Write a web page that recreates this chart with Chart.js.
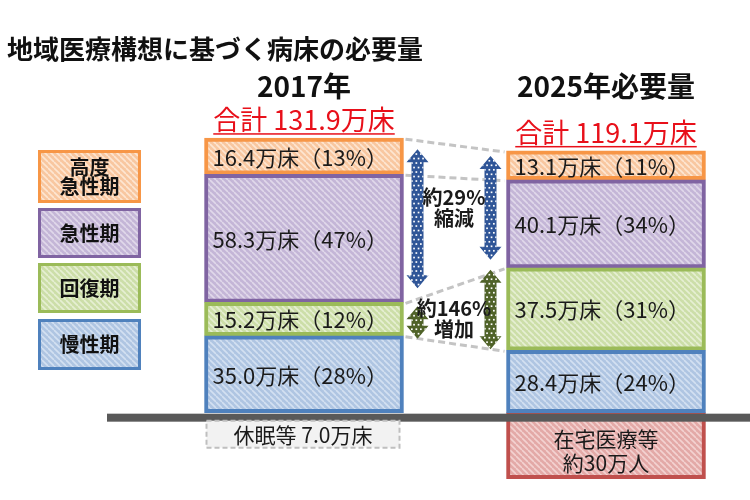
<!DOCTYPE html>
<html lang="ja">
<head>
<meta charset="utf-8">
<script src="https://cdn.jsdelivr.net/npm/chart.js@4.4.1/dist/chart.umd.min.js"></script>
<style>
  html, body { margin: 0; padding: 0; background: #fff; }
  #wrap { width: 750px; height: 500px; }
</style>
</head>
<body>
<div id="wrap"><canvas id="bedChart" width="750" height="500"></canvas></div>
<script>
// Data (万床)
const years = ["2017年", "2025年必要量"];
const totals = [131.9, 119.1];
const stageNames = ["高度\n急性期", "急性期", "回復期", "慢性期"];
const highAcute = [16.4, 13.1];
const acute = [58.3, 40.1];
const recovery = [15.2, 37.5];
const chronic = [35.0, 28.4];
const highAcuteShare = [13, 11];
const acuteShare = [47, 34];
const recoveryShare = [12, 31];
const chronicShare = [28, 24];
const homeCare = [null, -30]; // 在宅医療等 約30万人
const homeCareText = ["在宅医療等", "約30万人"];
const idleBeds = 7.0;
const changeLabels = [["約29%", "縮減"], ["約146%", "増加"]];

const fontJP = "'Noto Sans CJK JP', 'Noto Sans', sans-serif";

// Striped fills
function stripes(base, line) {
    const c = document.createElement("canvas");
    c.width = 6;
    c.height = 6;
    const g = c.getContext("2d");
    g.fillStyle = base;
    g.fillRect(0, 0, 6, 6);
    g.strokeStyle = line;
    g.lineWidth = 1.6;
    g.beginPath();
    for (let k = -2; k <= 2; k++) {
        g.moveTo(0, 6 * k);
        g.lineTo(6, 6 * k + 6);
    }
    g.stroke();
    return g.createPattern(c, "repeat");
}

const colors = {
    orange: { border: "#F79646", fill: stripes("#F8C7A0", "#FDE6D2") },
    purple: { border: "#8064A2", fill: stripes("#C4B6D7", "#E0D8EA") },
    green: { border: "#9BBB59", fill: stripes("#CCDEA8", "#E6EFD3") },
    blue: { border: "#4F81BD", fill: stripes("#AFC5E2", "#D3E0F1") },
    red: { border: "#C0504D", fill: stripes("#E3A9A7", "#F3D2D1") },
};

function drawArrow(ctx, x, y1, y2, color) {
    const shaft = 6, head = 11, hl = 13;
    ctx.save();
    ctx.beginPath();
    ctx.moveTo(x, y1);
    ctx.lineTo(x + head, y1 + hl);
    ctx.lineTo(x + shaft, y1 + hl);
    ctx.lineTo(x + shaft, y2 - hl);
    ctx.lineTo(x + head, y2 - hl);
    ctx.lineTo(x, y2);
    ctx.lineTo(x - head, y2 - hl);
    ctx.lineTo(x - shaft, y2 - hl);
    ctx.lineTo(x - shaft, y1 + hl);
    ctx.lineTo(x - head, y1 + hl);
    ctx.closePath();
    ctx.fillStyle = color;
    ctx.fill();
    ctx.clip();
    ctx.fillStyle = "#ffffff";
    let row = 0;
    for (let yy = y1 + 4; yy < y2 - 2; yy += 4.5) {
        const shift = row % 2 ? 2.2 : 0;
        for (let xx = x - 11; xx <= x + 11; xx += 4.5) {
            ctx.fillRect(xx + shift, yy, 1.7, 1.7);
        }
        row++;
    }
    ctx.restore();
}

// Texts, legend, connectors, arrows
const overlay = {
    id: "overlay",
    afterDatasetsDraw(chart) {
        const ctx = chart.ctx;
        const zeroY = chart.scales.y.getPixelForValue(0);
        const bars = (i) => chart.getDatasetMeta(i).data;
        const left = (el) => el.x - el.width / 2;
        const right = (el) => el.x + el.width / 2;

        ctx.save();

        // Title
        ctx.fillStyle = "#111";
        ctx.textBaseline = "alphabetic";
        ctx.textAlign = "left";
        ctx.font = "bold 26px " + fontJP;
        ctx.fillText("地域医療構想に基づく病床の必要量", 7, 59);

        // Year headings and totals
        years.forEach((year, i) => {
            const top = bars(3)[i];
            ctx.fillStyle = "#111";
            ctx.textAlign = "center";
            ctx.font = "bold 28px " + fontJP;
            ctx.fillText(year, top.x, 97);

            const label = "合計 " + totals[i].toFixed(1) + "万床";
            ctx.font = "27px " + fontJP;
            ctx.fillStyle = "#E8101A";
            ctx.fillText(label, top.x, top.y - 8);
            const w = ctx.measureText(label).width;
            ctx.fillRect(top.x - w / 2, top.y - 5, w, 1.5);
        });

        // Dotted connectors between segment borders
        const edges = [
            [bars(3)[0].y, bars(3)[1].y],
            [bars(3)[0].base, bars(3)[1].base],
            [bars(2)[0].base, bars(2)[1].base],
            [bars(1)[0].base, bars(1)[1].base],
        ];
        ctx.strokeStyle = "#C4C4C4";
        ctx.lineWidth = 3;
        ctx.setLineDash([7, 4]);
        edges.forEach(([a, b]) => {
            ctx.beginPath();
            ctx.moveTo(right(bars(0)[0]) + 2, a + 1);
            ctx.lineTo(left(bars(0)[1]) - 2, b + 1);
            ctx.stroke();
        });
        ctx.setLineDash([]);

        // Arrows
        const xa = right(bars(0)[0]) + 14;
        const xb = left(bars(0)[1]) - 16;
        drawArrow(ctx, xa, bars(3)[0].y + 11, bars(2)[0].base - 14, "#2F5597");
        drawArrow(ctx, xb, bars(3)[1].y + 5, bars(2)[1].base - 8, "#2F5597");
        drawArrow(ctx, xa, bars(1)[0].y + 4, bars(1)[0].base + 3, "#4F6228");
        drawArrow(ctx, xb, bars(1)[1].y + 2, bars(1)[1].base - 1, "#4F6228");

        const midX = (xa + xb) / 2;
        ctx.fillStyle = "#1a1a1a";
        ctx.textAlign = "center";
        ctx.font = "bold 20px " + fontJP;
        ctx.fillText(changeLabels[0][0], midX, 205);
        ctx.fillText(changeLabels[0][1], midX, 226);
        ctx.fillText(changeLabels[1][0], midX, 316);
        ctx.fillText(changeLabels[1][1], midX, 337);

        // Segment labels
        const shares = [chronicShare, recoveryShare, acuteShare, highAcuteShare];
        ctx.textAlign = "left";
        ctx.textBaseline = "middle";
        ctx.font = "22px " + fontJP;
        ctx.fillStyle = "#1a1a1a";
        for (let d = 0; d < 4; d++) {
            bars(d).forEach((el, i) => {
                const v = chart.data.datasets[d].data[i];
                const text = v.toFixed(1) + "万床（" + shares[d][i] + "%）";
                ctx.fillText(text, left(el) + 8, (el.y + el.base) / 2 + 1);
            });
        }

        // Baseline
        ctx.fillStyle = "#595959";
        ctx.fillRect(107, zeroY + 1, 643, 8);

        // 休眠等 box
        const b0 = bars(0)[0];
        ctx.fillStyle = "#F2F2F2";
        ctx.fillRect(left(b0) + 2, zeroY + 8, b0.width - 6, 27);
        ctx.strokeStyle = "#BFBFBF";
        ctx.lineWidth = 2;
        ctx.setLineDash([5, 3]);
        ctx.strokeRect(left(b0) + 2, zeroY + 8, b0.width - 6, 27);
        ctx.setLineDash([]);
        ctx.fillStyle = "#1a1a1a";
        ctx.textAlign = "center";
        ctx.font = "21px " + fontJP;
        ctx.fillText("休眠等 " + idleBeds.toFixed(1) + "万床", b0.x - 1, zeroY + 22);

        // 在宅医療等 text
        const hc = bars(4)[1];
        const hcMid = (hc.y + hc.base) / 2 + 4;
        ctx.font = "21px " + fontJP;
        ctx.fillText(homeCareText[0], hc.x, hcMid - 11);
        ctx.fillText(homeCareText[1], hc.x, hcMid + 13);

        // Stage legend on the left
        const legendFills = [colors.orange, colors.purple, colors.green, colors.blue];
        const boxes = [[150, 53], [208, 50], [263, 50], [319, 51]];
        ctx.font = "bold 20px " + fontJP;
        boxes.forEach(([y, h], i) => {
            ctx.fillStyle = legendFills[i].border;
            ctx.fillRect(38, y, 103, h);
            ctx.fillStyle = legendFills[i].fill;
            ctx.fillRect(41, y + 3, 97, h - 6);
            ctx.fillStyle = "#111";
            const lines = stageNames[i].split("\n");
            lines.forEach((line, k) => {
                const ly = y + h / 2 + (k - (lines.length - 1) / 2) * 19;
                ctx.fillText(line, 89.5, ly);
            });
        });

        ctx.restore();
    },
};

const common = { borderWidth: 4, borderSkipped: false, barThickness: 199, clip: false };

const ctx = document.getElementById("bedChart").getContext("2d");
new Chart(ctx, {
    type: "bar",
    data: {
        labels: years,
        datasets: [
            { label: "慢性期", data: chronic, backgroundColor: colors.blue.fill, borderColor: colors.blue.border, ...common },
            { label: "回復期", data: recovery, backgroundColor: colors.green.fill, borderColor: colors.green.border, ...common },
            { label: "急性期", data: acute, backgroundColor: colors.purple.fill, borderColor: colors.purple.border, ...common },
            { label: "高度急性期", data: highAcute, backgroundColor: colors.orange.fill, borderColor: colors.orange.border, ...common },
            { label: "在宅医療等", data: homeCare, backgroundColor: colors.red.fill, borderColor: colors.red.border, ...common },
        ],
    },
    options: {
        responsive: false,
        animation: false,
        layout: { padding: { top: 116, bottom: 17, left: 304, right: 144 } },
        plugins: {
            legend: { display: false },
            tooltip: { enabled: false },
            title: { display: false },
        },
        scales: {
            x: { display: false, stacked: true, offset: false },
            y: { display: false, stacked: true, min: -32, max: 135 },
        },
    },
    plugins: [overlay],
});
</script>
</body>
</html>
